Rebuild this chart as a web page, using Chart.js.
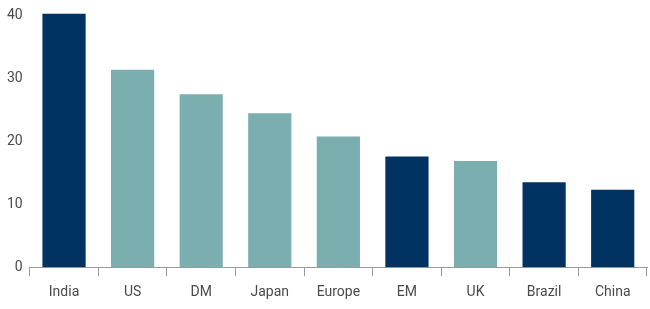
<!DOCTYPE html>
<html>
<head>
<meta charset="utf-8">
<script src="https://cdn.jsdelivr.net/npm/chart.js@4/dist/chart.umd.min.js"></script>
<style>
  html, body { margin: 0; padding: 0; background: #fff; }
  #wrap { width: 650px; height: 309px; position: relative; }
</style>
</head>
<body>
<div id="wrap"><canvas id="barChart"></canvas></div>
<script>
// categories and values
const categories = ['India', 'US', 'DM', 'Japan', 'Europe', 'EM', 'UK', 'Brazil', 'China'];
const values = [40.3, 31.4, 27.5, 24.5, 20.8, 17.6, 16.9, 13.5, 12.3];
const groups = ['em', 'dm', 'dm', 'dm', 'dm', 'em', 'dm', 'em', 'em'];
const yTicks = [0, 10, 20, 30, 40];

const NAVY = '#003361';
const TEAL = '#7aaeaf';
const FONT = "'Roboto', sans-serif";

const canvas = document.getElementById('barChart');

new Chart(canvas, {
    type: 'bar',
    data: {
        labels: categories,
        datasets: [{
            data: values,
            backgroundColor: groups.map(g => g === 'em' ? NAVY : TEAL),
            borderWidth: 0,
            categoryPercentage: 0.63,
            barPercentage: 1
        }]
    },
    options: {
        responsive: true,
        maintainAspectRatio: false,
        animation: false,
        layout: { padding: { left: 0, right: 3, top: 0, bottom: 0 } },
        plugins: {
            legend: { display: false },
            tooltip: { enabled: false }
        },
        scales: {
            x: {
                grid: {
                    display: true,
                    drawOnChartArea: false,
                    drawTicks: true,
                    tickLength: 9,
                    color: '#9a9a9a',
                    offset: true
                },
                border: { display: true, color: '#9a9a9a', width: 1 },
                ticks: {
                    color: '#4a4a4a',
                    font: { family: FONT, size: 14 },
                    padding: 8,
                    maxRotation: 0
                }
            },
            y: {
                min: 0,
                max: 42.5,
                grid: { display: false, drawTicks: false },
                border: { display: false },
                afterBuildTicks: axis => {
                    axis.ticks = yTicks.map(v => ({ value: v }));
                },
                // the top tick is well below the top edge, so no label room is needed there
                afterFit: axis => {
                    axis.paddingTop = 0;
                },
                ticks: {
                    color: '#4a4a4a',
                    font: { family: FONT, size: 14 },
                    padding: 7
                }
            }
        }
    }
});
</script>
</body>
</html>
